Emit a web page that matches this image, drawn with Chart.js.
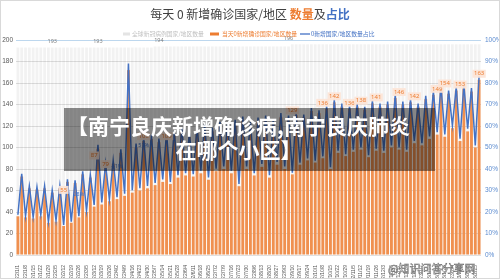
<!DOCTYPE html>
<html>
<head>
<meta charset="utf-8">
<script src="https://cdn.jsdelivr.net/npm/chart.js@4"></script>
<style>
  body { margin: 0; background: #fff; font-family: "Noto Sans CJK SC", "Noto Sans", sans-serif; }
  #wrap { position: relative; width: 500px; height: 279px; overflow: hidden; }
  #frame { position: absolute; left: 0; top: 0; width: 498px; height: 277px; border: 1px solid #d9d9d9; pointer-events: none; }
  #title { position: absolute; left: 0; top: 5px; width: 500px; text-align: center; font-size: 12px; line-height: 18px; color: #404040; }
  #title .o { color: #ED7D31; font-weight: bold; }
  #title .b { color: #4472C4; font-weight: bold; }
  #mask { position: absolute; left: 64px; top: 108px; width: 371px; height: 63px; box-sizing: border-box;
          padding: 5px 22px 0 0; background: rgba(0,0,0,0.45); color: #fff; font-weight: bold;
          font-size: 21px; line-height: 24px; text-align: center; }
  #wm { position: absolute; left: 388px; top: 260px; font-size: 11px; color: rgba(255,255,255,0.85);
        -webkit-text-stroke: 0.5px #666; white-space: nowrap; }
</style>
</head>
<body>
<div id="wrap">
  <canvas id="chart" width="500" height="279"></canvas>
  <div id="title">每天 0 新增确诊国家/地区 <span class="o">数量</span>及<span class="b">占比</span></div>
  <div id="mask">【南宁良庆新增确诊病,南宁良庆肺炎<br>在哪个小区】</div>
  <div id="wm">@知识问答分享网</div>
  <div id="frame"></div>
</div>
<script>
// weekly tick labels (two points per week: low day, high day)
const weekLabels = ['22/1/1','22/1/8','22/1/15','22/1/22','22/1/29','22/2/5','22/2/12','22/2/19','22/2/26',
  '22/3/5','22/3/12','22/3/19','22/3/26','22/4/2','22/4/9','22/4/16','22/4/23','22/4/30','22/5/7','22/5/14',
  '22/5/21','22/5/28','22/6/4','22/6/11','22/6/18','22/6/25','22/7/2','22/7/9','22/7/16','22/7/23','22/7/30',
  '22/8/6','22/8/13','22/8/20','22/8/27','22/9/3','22/9/10','22/9/17','22/9/24','22/10/1','22/10/8','22/10/15',
  '22/10/22','22/10/29','22/11/5','22/11/12','22/11/19','22/11/26','22/12/3','22/12/10','22/12/17','22/12/24',
  '22/12/31','23/1/7','23/1/14','23/1/21','23/1/28','23/2/4','23/2/11','23/2/18','23/2/25'];

// 全球新冠病例国家/地区数量
const totalCountries = [
  193,193, 193,193, 193,193, 193,193, 193,193, 193,193, 193,193, 193,193, 193,193, 193,193,
  193,193, 193,193, 193,193, 193,193, 193,193, 193,193, 193,193, 193,193, 194,194, 194,194,
  194,194, 194,194, 194,194, 194,194, 194,194, 194,194, 194,194, 194,194, 194,194, 194,194,
  194,194, 194,194, 194,194, 194,194, 194,194, 194,194, 196,196, 196,196, 196,196, 196,196,
  196,196, 196,196, 196,196, 196,196, 196,196, 196,196, 196,196, 196,196, 196,196, 196,196,
  196,196, 196,196, 196,196, 196,196, 196,196, 196,196, 196,196, 196,196, 196,196, 196,196,
  196,196];

// 当天0新增确诊国家/地区数量
const zeroNew = [
  36,73, 35,62, 34,61, 36,62, 30,58, 31,62, 27,68, 30,67, 35,75, 40,72,
  45,99, 47,82, 50,85, 52,95, 55,172, 58,100, 60,106, 62,108, 65,105, 68,110,
  66,112, 72,115, 74,110, 73,116, 76,118, 70,115, 78,120, 80,118, 76,122, 64,125,
  80,120, 74,124, 82,126, 72,122, 84,128, 80,126, 75,130, 84,128, 88,134, 86,132,
  90,136, 80,142, 95,138, 92,136, 96,138, 98,135, 91,141, 97,138, 95,140, 100,146,
  98,140, 96,142, 104,138, 102,145, 108,149, 112,154, 110,150, 118,153, 106,155, 115,152,
  100,163];

// 0新增国家/地区数量占比 (%)
const zeroShare = [
  18.7,37.8, 18.1,32.1, 17.6,31.6, 18.7,32.1, 15.5,30.1, 16.1,32.1, 14.0,35.2, 15.5,34.7, 18.1,38.9, 20.7,37.3,
  23.3,51.3, 24.4,42.5, 25.9,44.0, 26.9,49.2, 28.5,89.1, 30.1,51.8, 31.1,54.9, 32.1,56.0, 33.5,54.1, 35.1,56.7,
  34.0,57.7, 37.1,59.3, 38.1,56.7, 37.6,59.8, 39.2,60.8, 36.1,59.3, 40.2,61.9, 41.2,60.8, 39.2,62.9, 33.0,64.4,
  41.2,61.9, 38.1,63.9, 42.3,64.9, 37.1,62.9, 43.3,66.0, 41.2,64.9, 38.3,66.3, 42.9,65.3, 44.9,68.4, 43.9,67.3,
  45.9,69.4, 40.8,72.4, 48.5,70.4, 46.9,69.4, 49.0,70.4, 50.0,68.9, 46.4,71.9, 49.5,70.4, 48.5,71.4, 51.0,74.5,
  50.0,71.4, 49.0,72.4, 53.1,70.4, 52.0,74.0, 55.1,76.0, 57.1,78.6, 56.1,76.5, 60.2,78.1, 54.1,79.1, 58.7,77.6,
  51.0,83.2];

// data labels shown on the picture: point index + text
const totalLabelIdx = [9, 21, 37, 71];
const totalLabelText = ['193', '193', '194', '196'];
const zeroLabelIdx = [12, 20, 23, 33, 39, 72, 80, 83, 87, 90, 94, 100, 104, 110, 112, 116, 121];
const zeroLabelText = ['55', '87', '79', '105', '105', '129', '136', '142', '136', '138', '141', '146', '142', '149', '154', '153', '163'];
const shareLabelIdx = [16, 26, 33];
const shareLabelText = ['28%', '41%', '51%'];

const labels = [];
weekLabels.forEach(w => { labels.push(w); labels.push(w); });

const ORANGE = '#ED7D31';
const BLUE = '#4472C4';

const overlayPlugin = {
  id: 'overlay',
  afterDatasetsDraw(chart) {
    const ctx = chart.ctx;
    const x = chart.scales.x, y = chart.scales.y, y1 = chart.scales.y1;
    ctx.save();
    ctx.textAlign = 'center';
    ctx.textBaseline = 'middle';

    // gray total labels
    ctx.font = '5.5px "Noto Sans", sans-serif';
    ctx.fillStyle = '#7f7f7f';
    totalLabelIdx.forEach((i, k) => {
      ctx.fillText(totalLabelText[k], x.getPixelForValue(i), y.getPixelForValue(Number(totalLabelText[k])) - 6);
    });

    // orange labels with light box
    ctx.font = '6px "Noto Sans", sans-serif';
    zeroLabelIdx.forEach((i, k) => {
      const t = zeroLabelText[k];
      const px = x.getPixelForValue(i);
      const py = y.getPixelForValue(Number(t)) - 6;
      const w = ctx.measureText(t).width + 3;
      ctx.fillStyle = 'rgba(252,228,214,0.92)';
      ctx.fillRect(px - w / 2, py - 4, w, 8);
      ctx.fillStyle = ORANGE;
      ctx.fillText(t, px, py);
    });

    // blue share labels
    ctx.fillStyle = BLUE;
    ctx.font = '5.5px "Noto Sans", sans-serif';
    shareLabelIdx.forEach((i, k) => {
      ctx.fillText(shareLabelText[k], x.getPixelForValue(i), y1.getPixelForValue(parseFloat(shareLabelText[k])));
    });

    // legend
    ctx.textAlign = 'left';
    ctx.font = '5.8px "Noto Sans CJK SC", sans-serif';
    ctx.fillStyle = '#e4e4e4';
    ctx.fillRect(123, 32.5, 7, 3);
    ctx.fillStyle = '#bfbfbf';
    ctx.fillText('全球新冠病例国家/地区数量', 132, 34);
    ctx.fillStyle = ORANGE;
    ctx.fillRect(210, 32.5, 9, 3);
    ctx.fillText('当天0新增确诊国家/地区数量', 222, 34);
    ctx.strokeStyle = BLUE;
    ctx.lineWidth = 1.3;
    ctx.beginPath(); ctx.moveTo(300, 34); ctx.lineTo(310, 34); ctx.stroke();
    ctx.fillStyle = BLUE;
    ctx.fillText('0新增国家/地区数量占比', 311, 34);
    ctx.restore();
  }
};

new Chart(document.getElementById('chart'), {
  data: {
    labels: labels,
    datasets: [
      {
        type: 'line', label: '0新增国家/地区数量占比', data: zeroShare, yAxisID: 'y1',
        borderColor: BLUE, borderWidth: 1.5, pointRadius: 0, tension: 0, order: 0
      },
      {
        type: 'bar', label: '当天0新增确诊国家/地区数量', data: zeroNew, yAxisID: 'y',
        backgroundColor: '#F0904F', grouped: false, barPercentage: 0.75, categoryPercentage: 1, order: 1
      },
      {
        type: 'bar', label: '全球新冠病例国家/地区数量', data: totalCountries, yAxisID: 'y',
        backgroundColor: 'rgba(0,0,0,0.05)', grouped: false, barPercentage: 0.75, categoryPercentage: 1, order: 2
      }
    ]
  },
  options: {
    responsive: false,
    animation: false,
    layout: { padding: { top: 40, left: 0, right: 0, bottom: 0 } },
    plugins: { legend: { display: false }, tooltip: { enabled: false }, title: { display: false } },
    scales: {
      x: {
        grid: { display: false }, border: { display: false },
        ticks: {
          autoSkip: false, minRotation: 90, maxRotation: 90, padding: 2,
          font: { size: 5 }, color: '#595959',
          callback: function (v, i) { return i % 2 === 0 ? this.getLabelForValue(v) : ''; }
        },
        afterFit: s => { s.height = 24; }
      },
      y: {
        position: 'left', min: 0, max: 200,
        ticks: { stepSize: 20, font: { size: 6.5 }, color: '#595959', padding: 3 },
        grid: { color: c => c.tick && c.tick.value === 200 ? '#bdd7ee' : '#e0e0e0', drawTicks: false },
        border: { display: false },
        afterFit: s => { s.width = 16; }
      },
      y1: {
        position: 'right', min: 0, max: 100,
        ticks: { stepSize: 10, font: { size: 6.5 }, color: '#5B8BD0', padding: 4, callback: v => v + '%' },
        grid: { drawOnChartArea: false, drawTicks: false },
        border: { display: false },
        afterFit: s => { s.width = 19; }
      }
    }
  },
  plugins: [overlayPlugin]
});
</script>
</body>
</html>
